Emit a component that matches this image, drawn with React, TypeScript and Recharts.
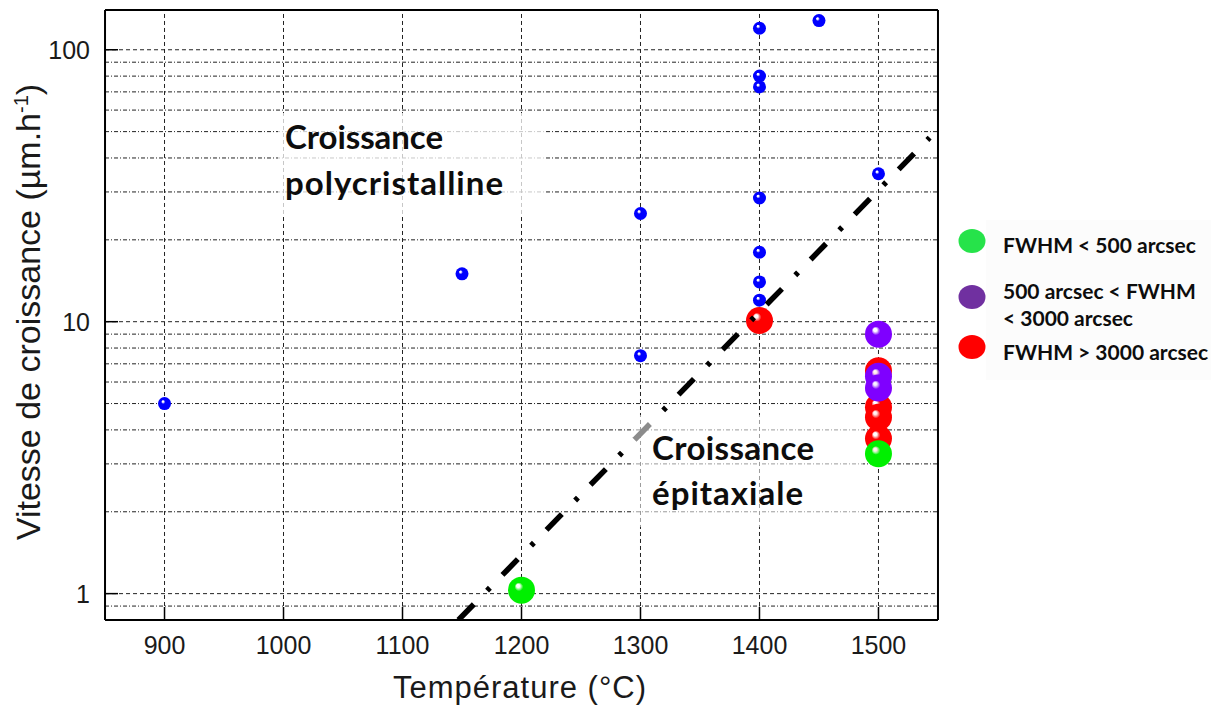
import { ScatterChart, Scatter, XAxis, YAxis, ReferenceLine } from 'recharts';

// temperatures (°C) and growth rates (µm/h)
const blueT = [900, 1150, 1300, 1300, 1400, 1400, 1400, 1400, 1400, 1400, 1400, 1450, 1500];
const blueV = [5, 15, 25, 7.5, 120, 80, 73, 28.5, 18, 14, 12, 128, 35];

const redT = [1400, 1500, 1500, 1500, 1500];
const redV = [10.1, 6.6, 4.85, 4.45, 3.72];

const purpleT = [1500, 1500, 1500];
const purpleV = [9, 6.3, 5.7];

const greenT = [1200, 1500];
const greenV = [1.03, 3.27];

// limit between polycrystalline and epitaxial growth
const trendT = [1147, 1543];
const trendV = [0.8, 47.5];

const majorT = [900, 1000, 1100, 1200, 1300, 1400, 1500];
const minorT = [950, 1050, 1150, 1250, 1350, 1450];
const majorV = [1, 10, 100];
const minorV = [0.9, 2, 3, 4, 5, 6, 7, 8, 9, 20, 30, 40, 50, 60, 70, 80, 90];

const legendItems = ['FWHM < 500 arcsec', '500 arcsec < FWHM', '< 3000 arcsec', 'FWHM > 3000 arcsec'];

const zip = (t: number[], v: number[]) => t.map((x, i) => ({ t: x, v: v[i] }));

const W = 1203;
const H = 697;
const AX = 0.01; // axes take (almost) no room, the frame is set by the margins
const AXIS_FONT = '"Liberation Sans", Arial, sans-serif';
const NOTE_FONT = 'Lato, "Open Sans", sans-serif';

const sphere = (id: string, r: number) => (props: any) => (
  <circle cx={props.cx} cy={props.cy} r={r} fill={`url(#${id})`} />
);

const Grad = ({ id, color }: { id: string; color: string }) => (
  <radialGradient id={id} cx="0.5" cy="0.5" r="0.5" fx="0.36" fy="0.32">
    <stop offset="0%" stopColor="#ffffff" />
    <stop offset="12%" stopColor="#ffffff" stopOpacity={0.9} />
    <stop offset="32%" stopColor={color} />
    <stop offset="100%" stopColor={color} />
  </radialGradient>
);

const line = { stroke: '#000', strokeWidth: 2 };
const tickLine = { stroke: '#000', strokeWidth: 1.5 };
const tickStyle = { fill: '#1a1a1a', fontSize: 25, fontFamily: AXIS_FONT };

export default function App() {
  return (
    <div style={{ position: 'relative', width: W, height: H }}>
      <svg width={0} height={0} style={{ position: 'absolute' }}>
        <defs>
          <Grad id="gBlue" color="#0000ff" />
          <Grad id="gRed" color="#ff0000" />
          <Grad id="gPurple" color="#7f00ff" />
          <Grad id="gGreen" color="#00f000" />
        </defs>
      </svg>
      <ScatterChart width={W} height={H} margin={{ top: 2, right: 273, bottom: 85, left: 97 }}>
        <XAxis xAxisId="x" type="number" dataKey="t" domain={[850, 1550]} allowDataOverflow ticks={majorT} interval={0}
          height={AX} tickSize={-13} tickMargin={29} axisLine={line} tickLine={tickLine} tick={tickStyle} />
        <XAxis xAxisId="xm" type="number" dataKey="t" domain={[850, 1550]} allowDataOverflow ticks={minorT} interval={0}
          height={AX} tickSize={-6} tick={false} axisLine={false} tickLine={tickLine} />
        <XAxis xAxisId="xt" orientation="top" type="number" dataKey="t" domain={[850, 1550]} allowDataOverflow ticks={majorT}
          interval={0} height={AX} tickSize={-13} tick={false} axisLine={line} tickLine={tickLine} />
        <XAxis xAxisId="xtm" orientation="top" type="number" dataKey="t" domain={[850, 1550]} allowDataOverflow ticks={minorT}
          interval={0} height={AX} tickSize={-6} tick={false} axisLine={false} tickLine={tickLine} />
        <YAxis yAxisId="y" type="number" dataKey="v" scale="log" domain={[0.8, 140]} allowDataOverflow ticks={majorV} interval={0}
          width={AX} tickSize={-13} tickMargin={28} axisLine={line} tickLine={tickLine} tick={tickStyle} />
        <YAxis yAxisId="ym" type="number" dataKey="v" scale="log" domain={[0.8, 140]} allowDataOverflow ticks={minorV} interval={0}
          width={AX} tickSize={-6} tick={false} axisLine={false} tickLine={tickLine} />
        <YAxis yAxisId="yr" orientation="right" type="number" dataKey="v" scale="log" domain={[0.8, 140]} allowDataOverflow
          ticks={majorV} interval={0} width={AX} tickSize={-13} tick={false} axisLine={line} tickLine={tickLine} />
        <YAxis yAxisId="yrm" orientation="right" type="number" dataKey="v" scale="log" domain={[0.8, 140]} allowDataOverflow
          ticks={minorV} interval={0} width={AX} tickSize={-6} tick={false} axisLine={false} tickLine={tickLine} />

        {majorT.map((t) => (
          <ReferenceLine key={'vx' + t} x={t} xAxisId="x" yAxisId="y" stroke="#222" strokeWidth={1} strokeDasharray="4 3" />
        ))}
        {majorV.map((v) => (
          <ReferenceLine key={'hy' + v} y={v} xAxisId="x" yAxisId="y" stroke="#222" strokeWidth={1} strokeDasharray="4 3" />
        ))}
        {minorV.map((v) => (
          <ReferenceLine key={'hm' + v} y={v} xAxisId="x" yAxisId="y" stroke="#222" strokeWidth={1} strokeDasharray="4 2 1 2" />
        ))}

        <Scatter xAxisId="x" yAxisId="y" data={zip(blueT, blueV)} shape={sphere('gBlue', 6.5)} isAnimationActive={false} />
        <Scatter xAxisId="x" yAxisId="y" data={zip(redT, redV)} shape={sphere('gRed', 13.5)} isAnimationActive={false} />
        <Scatter xAxisId="x" yAxisId="y" data={zip(purpleT, purpleV)} shape={sphere('gPurple', 13.5)} isAnimationActive={false} />
        <Scatter xAxisId="x" yAxisId="y" data={zip(greenT, greenV)} shape={sphere('gGreen', 13.5)} isAnimationActive={false} />
        <Scatter xAxisId="x" yAxisId="y" data={zip(trendT, trendV)} shape={() => <g />} isAnimationActive={false}
          line={{ stroke: '#000', strokeWidth: 5.5, strokeDasharray: '22 19 4 18' }} />
      </ScatterChart>

      <svg width={W} height={H} style={{ position: 'absolute', left: 0, top: 0, overflow: 'visible', pointerEvents: 'none' }}>
        {/* annotation boxes */}
        <rect x={270} y={105} width={267} height={104} fill="#ffffff" fillOpacity={0.75} />
        <rect x={625} y={407} width={230} height={112} fill="#ffffff" fillOpacity={0.55} />
        <g fontFamily={NOTE_FONT} fontWeight="bold" fontSize={33} fill="#0d0d0d">
          <text x={277} y={141} textLength={158} lengthAdjust="spacing">Croissance</text>
          <text x={277} y={187} textLength={218} lengthAdjust="spacing">polycristalline</text>
          <text x={644} y={452} textLength={162} lengthAdjust="spacing">Croissance</text>
          <text x={644} y={497} textLength={151} lengthAdjust="spacing">épitaxiale</text>
        </g>

        {/* axis titles */}
        <text x={512} y={690} textAnchor="middle" fontFamily={AXIS_FONT} fontSize={31} letterSpacing={1} fill="#1a1a1a">
          Température (°C)
        </text>
        <text transform="translate(32, 304) rotate(-90)" textAnchor="middle" fontFamily={AXIS_FONT} fontSize={34} fill="#1a1a1a">
          Vitesse de croissance (µm.h<tspan dy={-12} fontSize={20}>-1</tspan><tspan dy={12}>)</tspan>
        </text>

        {/* legend */}
        <rect x={978} y={212} width={225} height={160} fill="#fcfcfc" />
        <ellipse cx={964} cy={233} rx={13.5} ry={12} fill="#26e34a" />
        <ellipse cx={964} cy={289} rx={13.5} ry={12} fill="#7030a0" />
        <ellipse cx={964} cy={339} rx={13.5} ry={12} fill="#ff0000" />
        <g fontFamily={NOTE_FONT} fontWeight="bold" fontSize={21} fill="#0d0d0d">
          <text x={995} y={245}>{legendItems[0]}</text>
          <text x={995} y={291}>{legendItems[1]}</text>
          <text x={995} y={318}>{legendItems[2]}</text>
          <text x={995} y={352}>{legendItems[3]}</text>
        </g>
      </svg>
    </div>
  );
}
